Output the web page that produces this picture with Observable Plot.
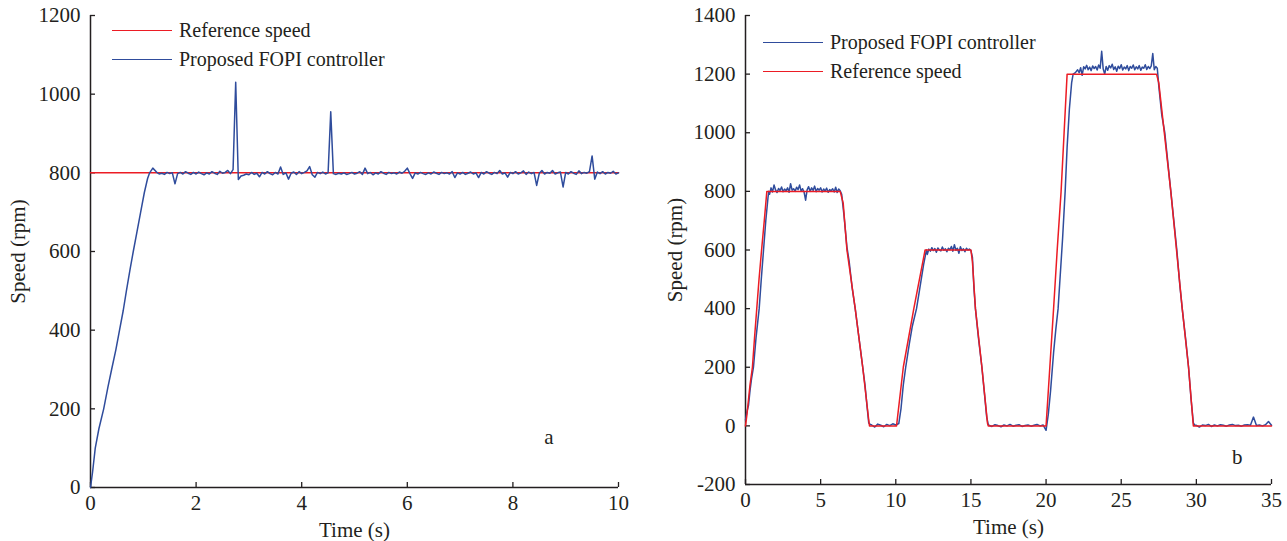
<!DOCTYPE html>
<html><head><meta charset="utf-8">
<script src="https://cdn.jsdelivr.net/npm/d3@7"></script>
<script src="https://cdn.jsdelivr.net/npm/@observablehq/plot@0.6"></script>
<style>
body{margin:0;background:#fff;}
#wrap{position:relative;width:1287px;height:541px;display:flex;font-family:"Liberation Serif",serif;color:#231f20;}
.panel{position:relative;height:541px;}
.row{position:absolute;display:flex;align-items:center;white-space:nowrap;font-size:20px;line-height:23px;}
.sw{width:60px;height:0;border-top:1.6px solid;margin-right:7px;}
</style></head><body>
<div id="wrap"><div class="panel" id="pa" style="width:640px"></div><div class="panel" id="pb" style="width:647px"></div></div>
<script>
// ---------- Panel a data ----------
const aXTicks = [0, 2, 4, 6, 8, 10];
const aYTicks = [0, 200, 400, 600, 800, 1000, 1200];
const aRefTime = [0, 10];
const aRefSpeed = [800, 800];
const aRampTime  = [0, 0.04, 0.09, 0.16, 0.25, 0.33, 0.4, 0.48, 0.55, 0.62, 0.68, 0.75, 0.81, 0.88, 0.95, 1.02, 1.08, 1.12, 1.18];
const aRampSpeed = [0, 40, 100, 150, 200, 255, 300, 350, 400, 450, 500, 555, 600, 650, 700, 750, 785, 800, 812];
const aSteadyStart = 1.25, aSteadyStep = 0.05;
const aSteadySpeed = [
802,797,799,796,801,798,800,772,798,801,797,803,799,796,801,797,802,798,795,800,
797,803,799,796,804,799,801,806,798,808,1030,783,792,794,797,795,801,796,799,790,
801,797,803,798,795,801,797,815,796,800,784,799,802,796,803,798,801,805,816,795,
789,801,798,802,797,800,955,798,796,799,797,800,796,798,801,797,799,803,796,812,
798,801,795,800,797,803,799,796,801,798,800,797,802,799,804,812,798,786,800,797,
801,798,796,800,797,802,799,796,801,798,800,797,803,788,800,797,801,796,799,802,
797,800,788,801,797,803,799,796,801,798,806,797,800,789,801,798,803,797,800,805,
796,802,798,801,768,799,806,797,801,799,806,797,800,802,764,801,797,803,799,796,
805,798,801,799,803,843,784,802,798,803,797,801,799,804,797,800];

// ---------- Panel b data ----------
const bXTicks = [0, 5, 10, 15, 20, 25, 30, 35];
const bYTicks = [-200, 0, 200, 400, 600, 800, 1000, 1200, 1400];
const bRefTime  = [0, 0.1, 0.2, 0.3, 0.46, 0.6, 0.75, 0.9, 1.07, 1.25, 1.42, 6.3, 6.5, 6.75, 7.3, 7.8, 8.2, 8.25, 10.05, 10.5, 11.2, 11.95, 15.0, 15.1, 15.3, 15.73, 16.1, 16.15, 20.0, 20.25, 20.5, 20.74, 21.0, 21.2, 21.4, 27.35, 27.5, 28.3, 29.06, 29.48, 29.8, 35];
const bRefSpeed = [0, 40, 90, 140, 200, 300, 400, 500, 600, 700, 800, 800, 760, 600, 400, 200, 20, 0, 0, 200, 400, 600, 600, 560, 400, 200, 10, 0, 0, 200, 400, 600, 800, 1000, 1200, 1200, 1170, 800, 400, 200, 0, 0];

// ramps (explicit time/speed pairs)
const bRamp1Time  = [0, 0.1, 0.2, 0.3, 0.4, 0.53, 0.7, 0.91, 1.05, 1.2, 1.35, 1.5, 1.55];
const bRamp1Speed = [20, 50, 70, 120, 160, 200, 300, 400, 500, 600, 700, 780, 800];
const bRamp2Time  = [6.4, 6.55, 6.75, 6.9, 7.1, 7.3, 7.5, 7.65, 7.8, 7.95, 8.1, 8.2, 8.3];
const bRamp2Speed = [790, 720, 610, 560, 470, 400, 320, 260, 200, 140, 60, 10, 5];
const bRamp3Time  = [10.35, 10.5, 10.66, 10.9, 11.1, 11.38, 11.6, 11.85, 12.04];
const bRamp3Speed = [60, 140, 200, 280, 340, 400, 470, 550, 600];
const bRamp4Time  = [15.1, 15.2, 15.3, 15.5, 15.73, 15.9, 16.05, 16.15];
const bRamp4Speed = [575, 470, 400, 300, 200, 110, 30, 5];
const bRamp5Time  = [20.15, 20.3, 20.5, 20.65, 20.8, 20.95, 21.1, 21.27, 21.4, 21.55, 21.7, 21.8, 21.95, 22.1];
const bRamp5Speed = [40, 120, 250, 330, 400, 520, 640, 800, 950, 1080, 1170, 1200, 1205, 1215];
const bRamp6Time  = [27.4, 27.5, 27.7, 27.9, 28.1, 28.3, 28.5, 28.7, 28.9, 29.06, 29.3, 29.48, 29.65, 29.8, 29.9];
const bRamp6Speed = [1220, 1160, 1060, 1000, 900, 800, 700, 600, 480, 400, 290, 200, 90, 10, 2];
// plateaus sampled at a fixed step
const bPlat1Start = 1.6, bPlat1Step = 0.1;
const bPlat1Speed = [790,812,798,822,805,796,810,803,815,799,808,802,812,797,826,804,809,800,814,806,822,801,809,797,770,805,816,800,812,803,818,799,810,804,812,798,808,801,811,797,806,802,809,798,814,796,808,802];
const bZero1Start = 8.4, bZero1Step = 0.2;
const bZero1Speed = [3,-4,6,2,-3,5,1,7,3,8];
const bPlat2Start = 12.1, bPlat2Step = 0.1;
const bPlat2Speed = [585,603,596,608,598,605,592,607,600,597,610,599,604,594,606,601,612,596,618,599,606,589,611,598,604,594,606,600,603,598];
const bZero2Start = 16.2, bZero2Step = 0.2;
const bZero2Speed = [2,-2,4,1,-3,3,0,5,-1,2,4,-2,1,3,-1,2,5,0,3,-15];
const bPlat3Start = 22.2, bPlat3Step = 0.1;
const bPlat3Speed = [1205,1222,1196,1225,1218,1230,1215,1224,1212,1228,1219,1226,1214,1231,1220,1278,1218,1200,1226,1213,1229,1221,1234,1216,1225,1210,1227,1219,1232,1214,1224,1218,1229,1212,1226,1220,1231,1215,1225,1218,1229,1213,1224,1220,1232,1216,1226,1219,1228,1270,1215,1226];
const bZero3Start = 30.0, bZero3Step = 0.2;
const bZero3Speed = [2,-4,3,1,5,-2,3,0,4,2,-1,3,5,1,2,-1,3,4,2,30,1,3,0,4,15,2];

// ---------- helpers ----------
const pairs = (ts, vs) => ts.map((t, i) => ({t, v: vs[i]}));
const sampled = (start, step, vs) => vs.map((v, i) => ({t: +(start + i * step).toFixed(3), v}));

const aRef = pairs(aRefTime, aRefSpeed);
const aBlue = [...pairs(aRampTime, aRampSpeed), ...sampled(aSteadyStart, aSteadyStep, aSteadySpeed)];
const bRef = pairs(bRefTime, bRefSpeed);
const bBlue = [
  ...pairs(bRamp1Time, bRamp1Speed), ...sampled(bPlat1Start, bPlat1Step, bPlat1Speed),
  ...pairs(bRamp2Time, bRamp2Speed), ...sampled(bZero1Start, bZero1Step, bZero1Speed),
  ...pairs(bRamp3Time, bRamp3Speed), ...sampled(bPlat2Start, bPlat2Step, bPlat2Speed),
  ...pairs(bRamp4Time, bRamp4Speed), ...sampled(bZero2Start, bZero2Step, bZero2Speed),
  ...pairs(bRamp5Time, bRamp5Speed), ...sampled(bPlat3Start, bPlat3Step, bPlat3Speed),
  ...pairs(bRamp6Time, bRamp6Speed), ...sampled(bZero3Start, bZero3Step, bZero3Speed)
].sort((p, q) => p.t - q.t);

const ink = "#231f20", RED = "#ec1c24", BLUE = "#2f4c9c";
const font = '"Liberation Serif", "Times New Roman", serif';
const fmt = d => String(d);
const TICK_PX = 5;

// builds axis lines, inward ticks (length TICK_PX converted to data units), labels
function axes({width, height, ml, mr, mt, mb, xDomain, yDomain, xTicks, yTicks, labelOffsetX, labelOffsetY}) {
  const [x0, x1] = xDomain, [y0, y1] = yDomain;
  const perPxX = (x1 - x0) / (width - ml - mr);
  const perPxY = (y1 - y0) / (height - mt - mb);
  return [
    Plot.ruleX([x0], {stroke: ink, strokeWidth: 1.5}),
    Plot.ruleY([y0], {stroke: ink, strokeWidth: 1.5}),
    Plot.ruleY(yTicks, {y: d => d, x1: x0, x2: x0 + TICK_PX * perPxX, stroke: ink, strokeWidth: 1.3}),
    Plot.ruleX(xTicks, {x: d => d, y1: y0, y2: y0 + TICK_PX * perPxY, stroke: ink, strokeWidth: 1.3}),
    Plot.axisY(yTicks, {anchor: "left", tickSize: 0, tickPadding: 10, tickFormat: fmt, label: "Speed (rpm)", labelAnchor: "center", labelOffset: labelOffsetY, labelArrow: "none"}),
    Plot.axisX(xTicks, {anchor: "bottom", tickSize: 0, tickPadding: 8, tickFormat: fmt, label: "Time (s)", labelAnchor: "center", labelOffset: labelOffsetX, labelArrow: "none"})
  ];
}

const specA = {width: 640, height: 541, ml: 90, mr: 22, mt: 15, mb: 54, xDomain: [0, 10], yDomain: [0, 1200], xTicks: aXTicks, yTicks: aYTicks, labelOffsetX: 49, labelOffsetY: 80};
const specB = {width: 647, height: 541, ml: 105, mr: 16, mt: 15, mb: 57, xDomain: [0, 35], yDomain: [-200, 1400], xTicks: bXTicks, yTicks: bYTicks, labelOffsetX: 49, labelOffsetY: 78};

function base(s) {
  return {
    width: s.width, height: s.height,
    marginLeft: s.ml, marginRight: s.mr, marginTop: s.mt, marginBottom: s.mb,
    style: {fontFamily: font, fontSize: "21px", color: ink, background: "transparent", overflow: "visible"},
    x: {domain: s.xDomain}, y: {domain: s.yDomain}
  };
}

const plotA = Plot.plot({
  ...base(specA),
  marks: [
    ...axes(specA),
    Plot.line(aRef, {x: "t", y: "v", stroke: RED, strokeWidth: 1.5}),
    Plot.line(aBlue, {x: "t", y: "v", stroke: BLUE, strokeWidth: 1.5}),
    Plot.text(["a"], {text: d => d, frameAnchor: "bottom-right", dx: -65, dy: -44, fontSize: 21, fill: ink})
  ]
});
const plotB = Plot.plot({
  ...base(specB),
  marks: [
    ...axes(specB),
    Plot.line(bBlue, {x: "t", y: "v", stroke: BLUE, strokeWidth: 1.5}),
    Plot.line(bRef, {x: "t", y: "v", stroke: RED, strokeWidth: 1.5}),
    Plot.text(["b"], {text: d => d, frameAnchor: "bottom-right", dx: -29, dy: -21, fontSize: 21, fill: ink})
  ]
});
document.getElementById("pa").appendChild(plotA);
document.getElementById("pb").appendChild(plotB);

// legends (overlaid inside each frame, as in the original)
const legendA = [{label: "Reference speed", color: RED, left: 112, top: 19}, {label: "Proposed FOPI controller", color: BLUE, left: 112, top: 48}];
const legendB = [{label: "Proposed FOPI controller", color: BLUE, left: 123, top: 31}, {label: "Reference speed", color: RED, left: 123, top: 60}];
function addLegend(id, items) {
  const host = document.getElementById(id);
  for (const it of items) {
    const row = document.createElement("div");
    row.className = "row";
    row.style.left = it.left + "px"; row.style.top = it.top + "px";
    const sw = document.createElement("div"); sw.className = "sw"; sw.style.borderColor = it.color;
    const tx = document.createElement("span"); tx.textContent = it.label;
    row.appendChild(sw); row.appendChild(tx); host.appendChild(row);
  }
}
addLegend("pa", legendA);
addLegend("pb", legendB);
</script></body></html>
